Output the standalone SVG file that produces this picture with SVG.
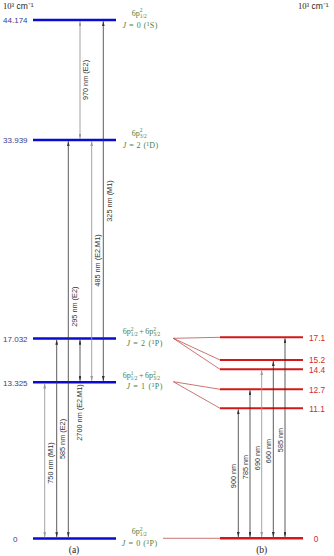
<svg xmlns="http://www.w3.org/2000/svg" width="334" height="556" viewBox="0 0 334 556">
<style>
.bl{stroke:#0b0bd0;stroke-width:2.5;fill:none}
.rl{stroke:#d41818;stroke-width:2;fill:none}
.rl0{stroke:#d41818;stroke-width:2.6;fill:none}
.fan{stroke:#b33a3a;stroke-width:0.7;fill:none}
.num{font-family:"Liberation Sans",Arial,sans-serif;font-size:8px;fill:#3b3b8e;text-anchor:middle}
.rnum{font-family:"Liberation Sans",Arial,sans-serif;font-size:8.3px;fill:#d42a2a;text-anchor:middle}
.g{font-family:"Liberation Serif","Times New Roman",serif;font-size:8px;fill:#4a804a}
.ss{font-size:5.5px}
.it{font-style:italic}
.dk{stroke:#333;stroke-width:0.8;fill:none;marker-start:url(#ad);marker-end:url(#ad)}
.gy{stroke:#9a9a9a;stroke-width:0.9;fill:none;marker-start:url(#ag);marker-end:url(#ag)}
.lab{font-family:"Liberation Sans",Arial,sans-serif;font-size:7.3px;fill:#333;text-anchor:middle}
.hd{font-family:"Liberation Sans",Arial,sans-serif;font-size:8.5px;fill:#222}
.sf{font-family:"Liberation Serif","Times New Roman",serif}
.cap{font-family:"Liberation Serif","Times New Roman",serif;font-size:9.5px;fill:#222;text-anchor:middle}
</style>
<defs>
<marker id="ad" viewBox="0 0 5 2.8" refX="5" refY="1.4" markerWidth="5" markerHeight="2.8" orient="auto-start-reverse" markerUnits="userSpaceOnUse"><path d="M0,0 L5,1.4 L0,2.8 z" fill="#333"/></marker>
<marker id="ag" viewBox="0 0 5 2.8" refX="5" refY="1.4" markerWidth="5" markerHeight="2.8" orient="auto-start-reverse" markerUnits="userSpaceOnUse"><path d="M0,0 L5,1.4 L0,2.8 z" fill="#9a9a9a"/></marker>
</defs>

<text class="hd" x="3" y="8.5"><tspan class="sf">10³</tspan> cm⁻¹</text>
<text class="hd" x="298" y="8.5"><tspan class="sf">10³</tspan> cm⁻¹</text>

<g id="level-a-44174">
<line class="bl" x1="33" y1="20" x2="116" y2="20"/>
<text class="num" x="15.3" y="23.3">44.174</text>
<text class="g" x="131.7" y="15.5">6p<tspan class="ss" dy="-3.2">2</tspan><tspan class="ss" dx="-2.75" dy="5.4">1/2</tspan></text>
<text class="g" x="140" y="27.5" text-anchor="middle" textLength="35" lengthAdjust="spacing"><tspan class="it">J</tspan> = 0 (¹S)</text>
</g>
<g id="level-a-33939">
<line class="bl" x1="33" y1="140" x2="116" y2="140"/>
<text class="num" x="15.3" y="143.3">33.939</text>
<text class="g" x="131.7" y="135.5">6p<tspan class="ss" dy="-3.2">2</tspan><tspan class="ss" dx="-2.75" dy="5.4">3/2</tspan></text>
<text class="g" x="140.5" y="147.5" text-anchor="middle" textLength="35.5" lengthAdjust="spacing"><tspan class="it">J</tspan> = 2 (¹D)</text>
</g>
<g id="level-a-17032">
<line class="bl" x1="33" y1="338.5" x2="116" y2="338.5"/>
<text class="num" x="15.3" y="341.8">17.032</text>
<text class="g" x="122.7" y="334">6p<tspan class="ss" dy="-3.2">2</tspan><tspan class="ss" dx="-2.75" dy="5.4">1/2</tspan><tspan dx="1.5" dy="-2.2">+</tspan><tspan dx="1.5">6p</tspan><tspan class="ss" dy="-3.2">2</tspan><tspan class="ss" dx="-2.75" dy="5.4">3/2</tspan></text>
<text class="g" x="144.5" y="345.5" text-anchor="middle" textLength="36" lengthAdjust="spacing"><tspan class="it">J</tspan> = 2 (³P)</text>
</g>
<g id="level-a-13325">
<line class="bl" x1="33" y1="382.2" x2="116" y2="382.2"/>
<text class="num" x="15.3" y="385.5">13.325</text>
<text class="g" x="122.7" y="377.7">6p<tspan class="ss" dy="-3.2">1</tspan><tspan class="ss" dx="-2.75" dy="5.4">1/2</tspan><tspan dx="1.5" dy="-2.2">+</tspan><tspan dx="1.5">6p</tspan><tspan class="ss" dy="-3.2">2</tspan><tspan class="ss" dx="-2.75" dy="5.4">3/2</tspan></text>
<text class="g" x="144.5" y="389.2" text-anchor="middle" textLength="36" lengthAdjust="spacing"><tspan class="it">J</tspan> = 1 (³P)</text>
</g>
<g id="level-a-0">
<line class="bl" x1="33" y1="538.5" x2="116" y2="538.5"/>
<text class="num" x="15.3" y="541.8">0</text>
<text class="g" x="131.7" y="534">6p<tspan class="ss" dy="-3.2">2</tspan><tspan class="ss" dx="-2.75" dy="5.4">1/2</tspan></text>
<text class="g" x="139.5" y="546.3" text-anchor="middle" textLength="35.5" lengthAdjust="spacing"><tspan class="it">J</tspan> = 0 (³P)</text>
</g>

<g id="level-b-17.1"><line class="rl" x1="220" y1="337.3" x2="303" y2="337.3"/><text class="rnum" x="317" y="340.5">17.1</text></g>
<g id="level-b-15.2"><line class="rl" x1="220" y1="360" x2="303" y2="360"/><text class="rnum" x="317" y="363.2">15.2</text></g>
<g id="level-b-14.4"><line class="rl" x1="220" y1="369.3" x2="303" y2="369.3"/><text class="rnum" x="317" y="372.5">14.4</text></g>
<g id="level-b-12.7"><line class="rl" x1="220" y1="389.3" x2="303" y2="389.3"/><text class="rnum" x="317" y="392.5">12.7</text></g>
<g id="level-b-11.1"><line class="rl" x1="220" y1="408.3" x2="303" y2="408.3"/><text class="rnum" x="317" y="411.5">11.1</text></g>
<g id="level-b-0"><line class="rl0" x1="220" y1="538.3" x2="303" y2="538.3"/><text class="rnum" x="316" y="541.5">0</text></g>

<g id="connectors">
<path class="fan" d="M173.3,338.3 L220,337.3 M173.3,338.3 L220,360 M173.3,338.3 L220,369.3 M173.3,381.7 L220,389.3 M173.3,381.7 L220,408.3 M163,538.3 L220,538.3"/>

<line class="gy" x1="44.7" y1="537.2" x2="44.7" y2="383.5"/>
<line class="dk" x1="56.7" y1="537.2" x2="56.7" y2="339.8"/>
<line class="dk" x1="68.3" y1="537.2" x2="68.3" y2="141.3"/>
<line class="dk" x1="80" y1="380.9" x2="80" y2="339.8"/>
<line class="gy" x1="91.7" y1="380.9" x2="91.7" y2="141.3"/>
<line class="dk" x1="103.3" y1="380.9" x2="103.3" y2="21.3"/>
<line class="gy" x1="80" y1="138.7" x2="80" y2="21.3"/>

<text class="lab" transform="translate(53.1,463) rotate(-90)">750 nm (M1)</text>
<text class="lab" transform="translate(65.1,439) rotate(-90)">585 nm (E2)</text>
<text class="lab" transform="translate(76.7,306.7) rotate(-90)">295 nm (E2)</text>
<text class="lab" transform="translate(81.6,412.5) rotate(-90)">2700 nm (E2,M1)</text>
<text class="lab" transform="translate(100.4,260.5) rotate(-90)">485 nm (E2,M1)</text>
<text class="lab" transform="translate(111.7,201) rotate(-90)">325 nm (M1)</text>
<text class="lab" transform="translate(88.4,80) rotate(-90)">970 nm (E2)</text>

<line class="dk" x1="238.3" y1="537" x2="238.3" y2="409.3"/>
<line class="dk" x1="250" y1="537" x2="250" y2="390.3"/>
<line class="gy" x1="261.7" y1="537" x2="261.7" y2="370.3"/>
<line class="dk" x1="273.3" y1="537" x2="273.3" y2="361"/>
<line class="dk" x1="285" y1="537" x2="285" y2="338.3"/>

<text class="lab" transform="translate(236.4,476) rotate(-90)">900 nm</text>
<text class="lab" transform="translate(248.1,467) rotate(-90)">785 nm</text>
<text class="lab" transform="translate(259.8,458) rotate(-90)">690 nm</text>
<text class="lab" transform="translate(271.4,451) rotate(-90)">660 nm</text>
<text class="lab" transform="translate(283.1,440) rotate(-90)">585 nm</text>
</g>

<text class="cap" x="74" y="553">(a)</text>
<text class="cap" x="261.7" y="553">(b)</text>
</svg>
